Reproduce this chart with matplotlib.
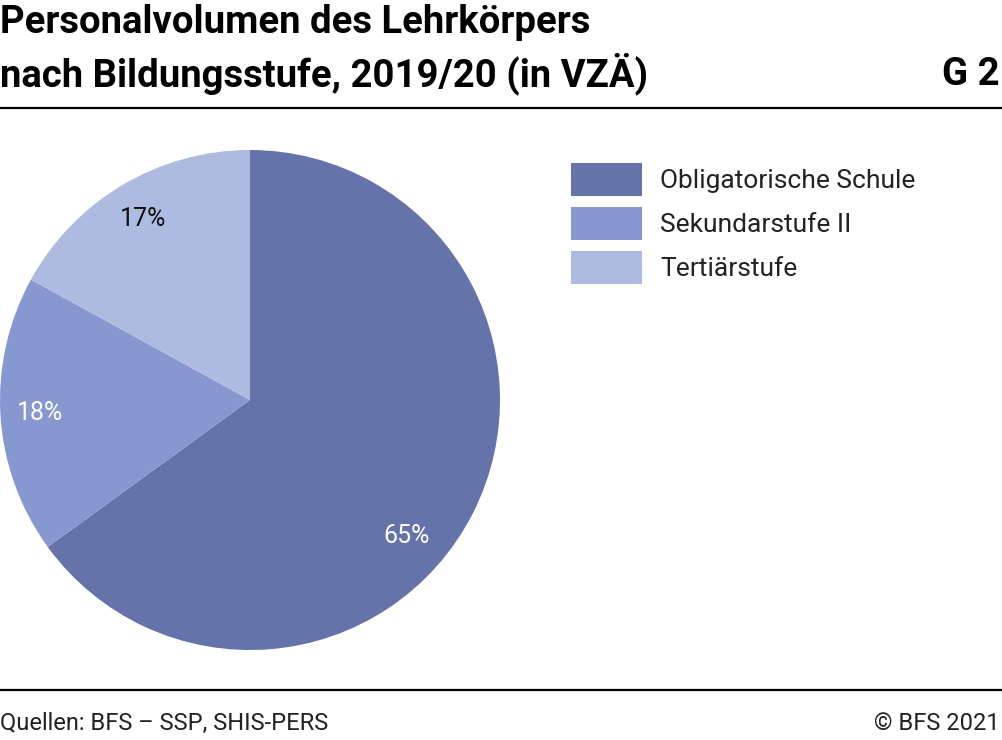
import matplotlib.pyplot as plt
from matplotlib.patches import Rectangle
from matplotlib.lines import Line2D
import numpy as np

plt.rcParams['font.family'] = ['Roboto', 'DejaVu Sans']

# Daten
categories = ['Obligatorische Schule', 'Sekundarstufe II', 'Tertiärstufe']
shares = [65, 18, 17]
colors = ['#6473aa', '#8797d0', '#adbbe0']
label_colors = ['white', 'white', '#111111']

W, H = 1003, 740
fig = plt.figure(figsize=(W / 100, H / 100), dpi=100)

# Titel
fig.text(0, 1 - 4 / H, 'Personalvolumen des Lehrkörpers\nnach Bildungsstufe, 2019/20 (in VZÄ)',
         ha='left', va='top', fontsize=27.5, fontweight='bold', linespacing=1.33, color='black')
fig.text(1 - 3 / W, 1 - 56 / H, 'G 2', ha='right', va='top', fontsize=27.5, fontweight='bold')

# Linien
fig.add_artist(Line2D([0, 1], [1 - 108 / H, 1 - 108 / H], color='black', lw=1.6))
fig.add_artist(Line2D([0, 1], [1 - 690 / H, 1 - 690 / H], color='black', lw=1.6))

# Fusszeile
fig.text(0, 1 - 723 / H, 'Quellen: BFS – SSP, SHIS-PERS', ha='left', va='center',
         fontsize=17, color='#222222')
fig.text(1 - 3 / W, 1 - 723 / H, '© BFS 2021', ha='right', va='center',
         fontsize=17, color='#222222')

# Kuchen
ax = fig.add_axes([0, 90 / H, 500 / W, 500 / H])
wedges, texts, autotexts = ax.pie(shares, colors=colors, startangle=90, counterclock=False,
                                  autopct='%d%%', pctdistance=0.84,
                                  wedgeprops=dict(linewidth=0),
                                  textprops=dict(fontsize=18))
for t, c in zip(autotexts, label_colors):
    t.set_color(c)
# 65%-Beschriftung etwas verschoben (wie im Original)
ang = np.deg2rad(-41)
autotexts[0].set_position((0.83 * np.cos(ang), 0.83 * np.sin(ang)))
ax.set_xlim(-1, 1)
ax.set_ylim(-1, 1)
ax.set_aspect('equal')

# Legende
for i, (lab, col) in enumerate(zip(categories, colors)):
    top = 163 + i * 44
    fig.add_artist(Rectangle((571 / W, 1 - (top + 33) / H), 71 / W, 33 / H,
                             transform=fig.transFigure, color=col, lw=0))
    fig.text(660 / W, 1 - (top + 18) / H, lab, ha='left', va='center',
             fontsize=19, color='#222222')

fig.savefig('out.png', dpi=100)
